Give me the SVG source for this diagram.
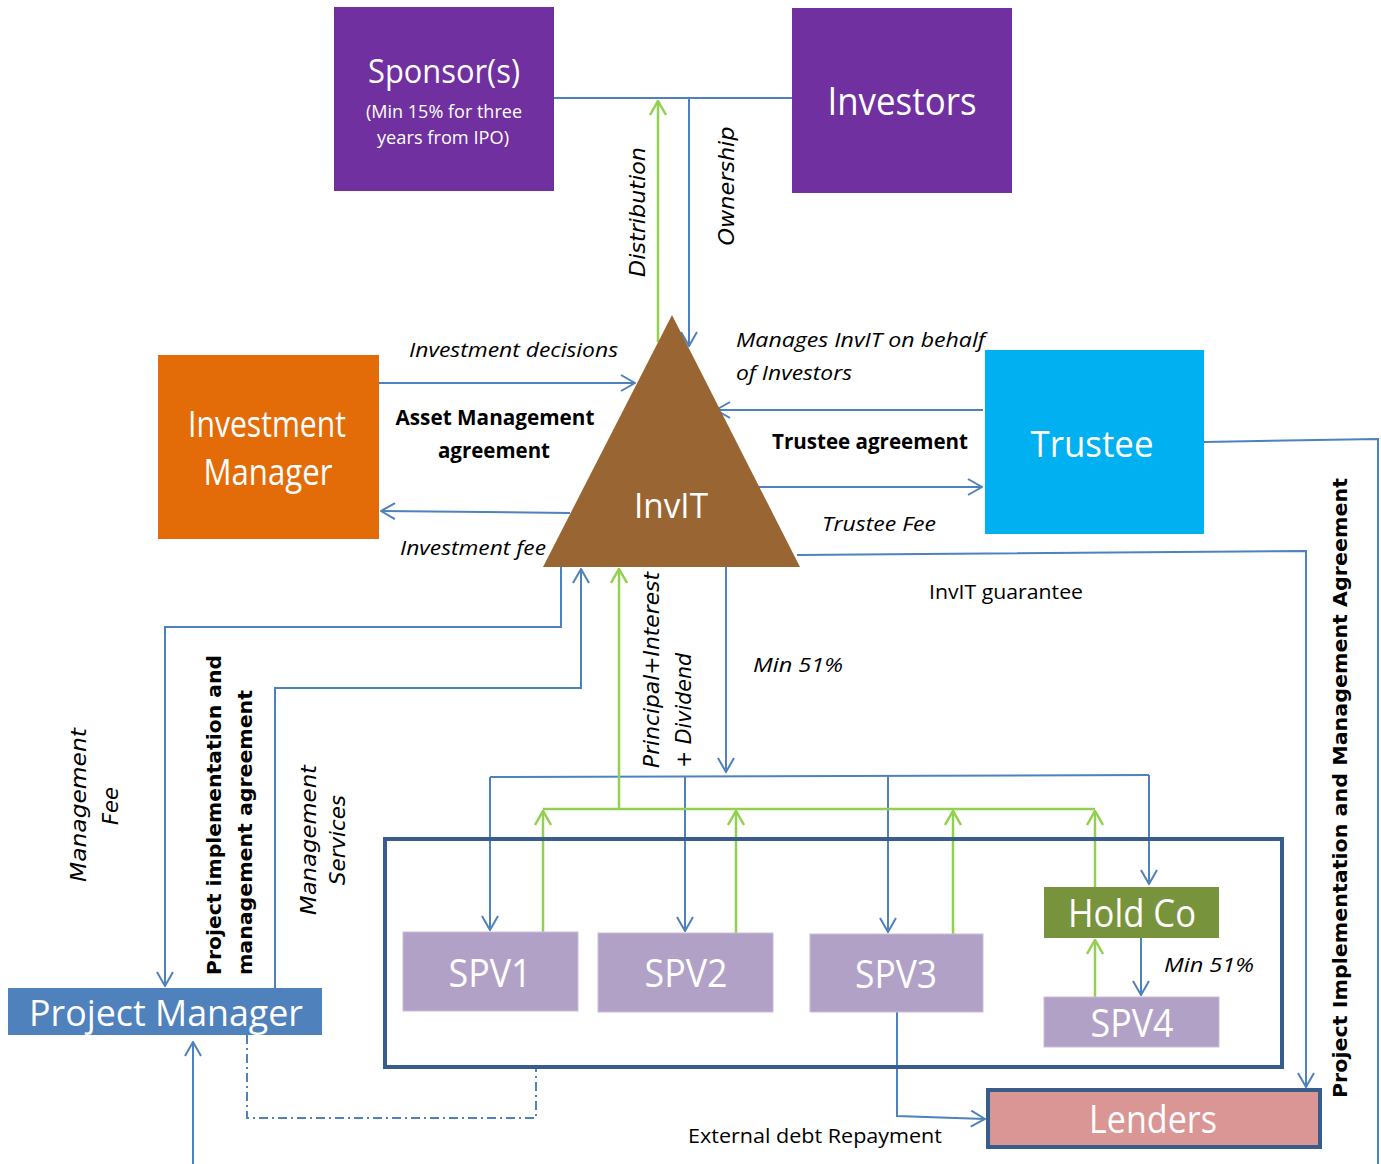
<svg xmlns="http://www.w3.org/2000/svg" width="1381" height="1164" viewBox="0 0 1381 1164">
<style>
.w{fill:#fff;font-family:"Open Sans","Liberation Sans",sans-serif;text-anchor:middle}
.it{fill:#000;font-family:"Open Sans","Liberation Sans",sans-serif;font-style:italic;font-size:20px}
.bd{fill:#000;font-family:"Open Sans","Liberation Sans",sans-serif;font-weight:bold;font-size:21px}
.rg{fill:#000;font-family:"Open Sans","Liberation Sans",sans-serif;font-size:20px}
.vi{fill:#000;font-family:"DejaVu Sans",sans-serif;font-style:italic;font-size:22px}
.vb{fill:#000;font-family:"DejaVu Sans",sans-serif;font-weight:bold;font-size:19px}
.b{fill:none;stroke:#4F81BD;stroke-width:2}
.g{fill:none;stroke:#92D050;stroke-width:2.5}
.ab{marker-end:url(#mb)}
.ag{marker-end:url(#mg)}
</style>
<defs>
<marker id="mb" markerUnits="userSpaceOnUse" viewBox="0 0 16 18" markerWidth="16" markerHeight="18" refX="15" refY="9" orient="auto"><path d="M1,1 L15,9 L1,17" fill="none" stroke="#4F81BD" stroke-width="2"/></marker>
<marker id="mg" markerUnits="userSpaceOnUse" viewBox="0 0 16 18" markerWidth="16" markerHeight="18" refX="15" refY="9" orient="auto"><path d="M1,1 L15,9 L1,17" fill="none" stroke="#92D050" stroke-width="2.5"/></marker>
</defs>
<rect width="1381" height="1164" fill="#fff"/>

<g id="connectors">
<path class="b" d="M554,98 H792"/>
<path class="b ab" d="M689,97 V346"/>
<path class="g ag" d="M658,342 V101"/>
<path class="b ab" d="M377,383 H635"/>
<path class="b ab" d="M570,513 L381,511"/>
<path class="b ab" d="M983,410 H716"/>
<path class="b ab" d="M759,487 H982"/>
<path class="b" d="M1204,442 L1378,439 V1164"/>
<path class="b ab" d="M797,555 L1306,551 V1087"/>
<path class="b ab" d="M726,567 V772"/>
<path class="b" d="M490,777 L1149,775"/>
<path class="b ab" d="M490,777 V930"/>
<path class="b ab" d="M685,777 V931"/>
<path class="b ab" d="M888,776 V932"/>
<path class="b ab" d="M1149,775 V884"/>
<path class="g" d="M543,809 H1095"/>
<path class="g ag" d="M543,932 V811"/>
<path class="g ag" d="M736,933 V811"/>
<path class="g ag" d="M953,934 V811"/>
<path class="g ag" d="M1095,887 V811"/>
<path class="g ag" d="M619,809 V569"/>
<path class="b ab" d="M1141,938 V995"/>
<path class="g ag" d="M1095,997 V940"/>
<path class="b ab" d="M897,1012 V1116 L985,1119"/>
<path class="b ab" d="M561,567 V627 H165 V986"/>
<path class="b ab" d="M275,988 V688 H581 V569"/>
<path class="b ab" d="M193,1164 V1042"/>
<path class="b" d="M247,1035 V1118 H536 V1068" stroke-dasharray="9,4,2,4"/>
</g>

<g id="sponsor">
<rect x="334" y="7" width="220" height="184" fill="#7030A0"/>
<text class="w" x="444" y="83" font-size="32" textLength="152" lengthAdjust="spacingAndGlyphs">Sponsor(s)</text>
<text class="w" x="444" y="118" font-size="19" textLength="156" lengthAdjust="spacingAndGlyphs">(Min 15% for three</text>
<text class="w" x="443" y="144" font-size="19" textLength="132" lengthAdjust="spacingAndGlyphs">years from IPO)</text>
</g>
<g id="investors">
<rect x="792" y="8" width="220" height="185" fill="#7030A0"/>
<text class="w" x="902" y="115" font-size="39" textLength="149" lengthAdjust="spacingAndGlyphs">Investors</text>
</g>
<g id="investment-manager">
<rect x="158" y="355" width="221" height="184" fill="#E36C09"/>
<text class="w" x="267" y="437" font-size="37" textLength="158" lengthAdjust="spacingAndGlyphs">Investment</text>
<text class="w" x="268" y="485" font-size="37" textLength="129" lengthAdjust="spacingAndGlyphs">Manager</text>
</g>
<g id="invit">
<polygon points="672,315 543,567 800,567" fill="#996633"/>
<text class="w" x="671" y="518" font-size="35" textLength="74" lengthAdjust="spacingAndGlyphs">InvIT</text>
</g>
<g id="trustee">
<rect x="985" y="350" width="219" height="184" fill="#00B0F0"/>
<text class="w" x="1092" y="457" font-size="37" textLength="123" lengthAdjust="spacingAndGlyphs">Trustee</text>
</g>
<g id="spv-group">
<rect x="385" y="839" width="897" height="228" fill="none" stroke="#385D8A" stroke-width="4"/>
</g>
<g id="spv1">
<rect x="403" y="932" width="175" height="79" fill="#B2A1C7" stroke="#C9BDD9" stroke-width="1"/>
<text class="w" x="490" y="987" font-size="38" textLength="83" lengthAdjust="spacingAndGlyphs">SPV1</text>
</g>
<g id="spv2">
<rect x="598" y="933" width="175" height="79" fill="#B2A1C7" stroke="#C9BDD9" stroke-width="1"/>
<text class="w" x="686" y="987" font-size="38" textLength="83" lengthAdjust="spacingAndGlyphs">SPV2</text>
</g>
<g id="spv3">
<rect x="810" y="934" width="173" height="78" fill="#B2A1C7" stroke="#C9BDD9" stroke-width="1"/>
<text class="w" x="896" y="988" font-size="38" textLength="82" lengthAdjust="spacingAndGlyphs">SPV3</text>
</g>
<g id="holdco">
<rect x="1044" y="887" width="175" height="51" fill="#77933C"/>
<text class="w" x="1132" y="927" font-size="38" textLength="128" lengthAdjust="spacingAndGlyphs">Hold Co</text>
</g>
<g id="spv4">
<rect x="1044" y="997" width="175" height="50" fill="#B2A1C7" stroke="#C9BDD9" stroke-width="1"/>
<text class="w" x="1132" y="1037" font-size="38" textLength="83" lengthAdjust="spacingAndGlyphs">SPV4</text>
</g>
<g id="lenders">
<rect x="988" y="1090" width="332" height="57" fill="#D99694" stroke="#385D8A" stroke-width="4"/>
<text class="w" x="1153" y="1133" font-size="38" textLength="128" lengthAdjust="spacingAndGlyphs">Lenders</text>
</g>
<g id="project-manager">
<rect x="8" y="988" width="314" height="47" fill="#4F81BD"/>
<text class="w" x="166" y="1026" font-size="37" textLength="274" lengthAdjust="spacingAndGlyphs">Project Manager</text>
</g>

<g id="labels">
<text class="it" x="409" y="357" textLength="209" lengthAdjust="spacingAndGlyphs">Investment decisions</text>
<text class="it" x="400" y="555" textLength="146" lengthAdjust="spacingAndGlyphs">Investment fee</text>
<text class="it" x="736" y="347" textLength="249" lengthAdjust="spacingAndGlyphs">Manages InvIT on behalf</text>
<text class="it" x="736" y="380" textLength="116" lengthAdjust="spacingAndGlyphs">of Investors</text>
<text class="it" x="822" y="531" textLength="114" lengthAdjust="spacingAndGlyphs">Trustee Fee</text>
<text class="it" x="753" y="672" textLength="90" lengthAdjust="spacingAndGlyphs">Min 51%</text>
<text class="it" x="1164" y="972" textLength="90" lengthAdjust="spacingAndGlyphs">Min 51%</text>
<text class="bd" x="495" y="425" text-anchor="middle" textLength="199" lengthAdjust="spacingAndGlyphs">Asset Management</text>
<text class="bd" x="494" y="458" text-anchor="middle" textLength="112" lengthAdjust="spacingAndGlyphs">agreement</text>
<text class="bd" x="772" y="449" textLength="196" lengthAdjust="spacingAndGlyphs">Trustee agreement</text>
<text class="rg" x="929" y="599" textLength="154" lengthAdjust="spacingAndGlyphs">InvIT guarantee</text>
<text class="rg" x="688" y="1143" textLength="254" lengthAdjust="spacingAndGlyphs">External debt Repayment</text>
<text class="vi" transform="translate(645,212) rotate(-90)" text-anchor="middle" textLength="130" lengthAdjust="spacingAndGlyphs">Distribution</text>
<text class="vi" transform="translate(734,186) rotate(-90)" text-anchor="middle" textLength="119" lengthAdjust="spacingAndGlyphs">Ownership</text>
<text class="vi" transform="translate(659,768) rotate(-90)" textLength="196" lengthAdjust="spacingAndGlyphs">Principal+Interest</text>
<text class="vi" transform="translate(691,768) rotate(-90)" textLength="115" lengthAdjust="spacingAndGlyphs">+ Dividend</text>
<text class="vi" transform="translate(86,805) rotate(-90)" text-anchor="middle" textLength="154" lengthAdjust="spacingAndGlyphs">Management</text>
<text class="vi" transform="translate(118,806) rotate(-90)" text-anchor="middle" textLength="38" lengthAdjust="spacingAndGlyphs">Fee</text>
<text class="vi" transform="translate(316,840) rotate(-90)" text-anchor="middle" textLength="150" lengthAdjust="spacingAndGlyphs">Management</text>
<text class="vi" transform="translate(345,840) rotate(-90)" text-anchor="middle" textLength="90" lengthAdjust="spacingAndGlyphs">Services</text>
<text class="vb" transform="translate(221,975) rotate(-90)" textLength="320" lengthAdjust="spacingAndGlyphs">Project implementation and</text>
<text class="vb" transform="translate(252,975) rotate(-90)" textLength="285" lengthAdjust="spacingAndGlyphs">management agreement</text>
<text class="vb" transform="translate(1347,1098) rotate(-90)" textLength="620" lengthAdjust="spacingAndGlyphs">Project Implementation and Management Agreement</text>
</g>
</svg>
